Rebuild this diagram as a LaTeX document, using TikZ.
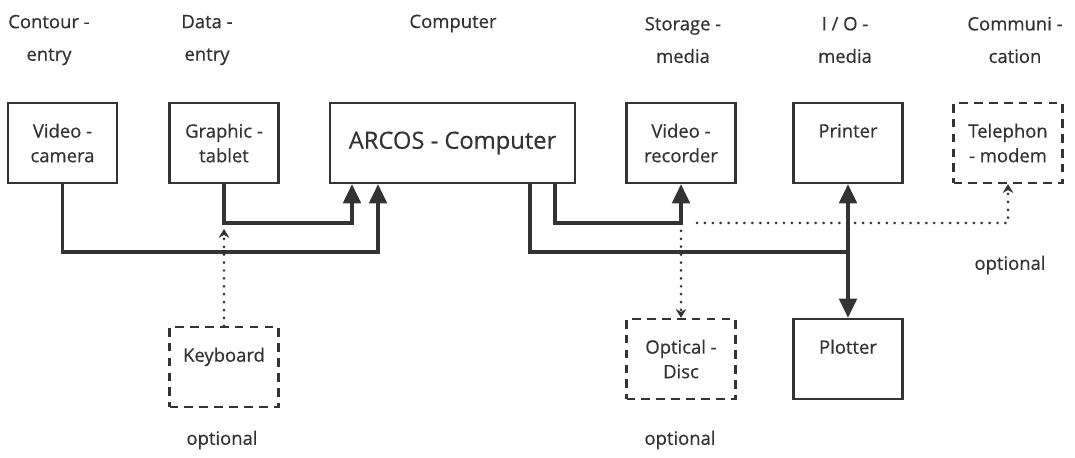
\documentclass[tikz,border=0pt]{standalone}
\usepackage{fontspec}
\setmainfont{Open Sans}[FakeBold=0.5]
\usetikzlibrary{arrows.meta}
\definecolor{ink}{gray}{0.2}

\begin{document}
\begin{tikzpicture}[
		head/.style={align=center, text=ink, font=\fontsize{10.5}{18.5}\selectfont},
		note/.style={text=ink, font=\fontsize{10.5}{13}\selectfont},
		unit/.style={draw=ink, line width=1.3pt, rectangle, minimum width=2.18cm, minimum height=1.6cm, align=center, text=ink, font=\fontsize{10.5}{14}\selectfont},
		optunit/.style={unit, dash pattern=on 5pt off 3.5pt},
		pipe/.style={draw=ink, line width=2.1pt, >={Triangle[width=10pt,length=11pt]}},
		optline/.style={draw=ink, line width=1.7pt, line cap=round, dash pattern=on 0pt off 4.5pt, >={Stealth[width=6pt,length=5pt]}}
	]
				\useasboundingbox (0, 0) rectangle (21.5, -9.16);
				\node[head] (hA)at(0.98, -0.8) {Contour -\\entry};
				\node[head] (hB)at(4.14, -0.8) {Data -\\entry};
				\node[head] (hC)at(9.06, -0.47) {Computer};
				\node[head] (hD)at(13.66, -0.8) {Storage -\\media};
				\node[head] (hE)at(16.9, -0.8) {I / O -\\media};
				\node[head] (hF)at(20.3, -0.8) {Communi -\\cation};
				\node[unit] (cam)at(1.25, -2.86) {Video -\\camera};
				\node[unit] (tab)at(4.48, -2.86) {Graphic -\\tablet};
				\node[unit, minimum width=4.9cm, font=\fontsize{13.5}{16}\selectfont] (comp)at(9.05, -2.86) {ARCOS - Computer};
				\node[unit] (rec)at(13.62, -2.86) {Video -\\recorder};
				\node[unit] (prn)at(16.96, -2.86) {Printer\\~};
				\node[optunit] (tel)at(20.16, -2.86) {Telephon\\- modem};
				\node[optunit] (key)at(4.48, -7.34) {Keyboard\\~};
				\node[optunit] (disc)at(13.62, -7.18) {Optical -\\Disc};
				\node[unit] (plot)at(16.96, -7.18) {Plotter\\~};
				\node[note] (optA)at(4.44, -8.8) {optional};
				\node[note] (optB)at(13.6, -8.8) {optional};
				\node[note] (optC)at(20.2, -5.3) {optional};
				\coordinate (c1) at(7.56, -5.04);
				\coordinate (c2) at(7.04, -4.46);
				\coordinate (c3) at(10.6, -5.04);
				\coordinate (c4) at(11.1, -4.46);
				\coordinate (k1) at(4.48, -4.58);
				\coordinate (d1) at(13.94, -4.46);
				\draw[pipe, ->] (cam.south) |- (c1) -- (c1 |- comp.south);
				\draw[pipe, ->] (tab.south) |- (c2) -- (c2 |- comp.south);
				\draw[pipe] (c3 |- comp.south) |- (prn.south |- c3);
				\draw[pipe, ->] (c4 |- comp.south) |- (rec.south |- c4) -- (rec.south);
				\draw[pipe, <->] (prn.south) -- (plot.north);
				\draw[optline, ->] (key.north) -- (k1);
				\draw[optline, ->] (rec.south |- c4) -- (disc.north);
				\draw[optline, ->] (d1) -| (tel.south);
			\end{tikzpicture}
\end{document}
